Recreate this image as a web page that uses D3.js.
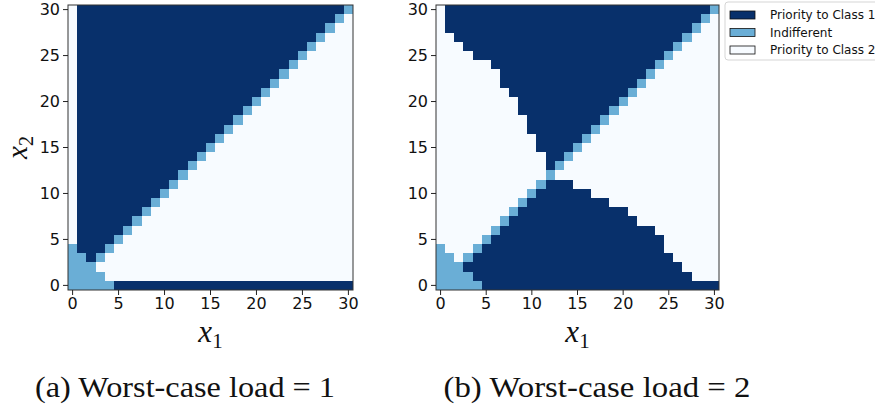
<!DOCTYPE html>
<html>
<head>
<meta charset="utf-8">
<script src="https://cdn.jsdelivr.net/npm/d3@7"></script>
<style>
  body { margin: 0; background: #fff; }
  svg { display: block; }
</style>
</head>
<body>
<div id="chart"></div>
<script>
// policy per state: 1 = priority to class 1, 0 = indifferent, 2 = priority to class 2
// each string is one row, top row is x2 = 30, columns x1 = 0..30 (grouped by 5)
const gridLoad1 = [
  "21111 11111 11111 11111 11111 11111 0",
  "21111 11111 11111 11111 11111 11110 2",
  "21111 11111 11111 11111 11111 11102 2",
  "21111 11111 11111 11111 11111 11022 2",
  "21111 11111 11111 11111 11111 10222 2",
  "21111 11111 11111 11111 11111 02222 2",
  "21111 11111 11111 11111 11110 22222 2",
  "21111 11111 11111 11111 11102 22222 2",
  "21111 11111 11111 11111 11022 22222 2",
  "21111 11111 11111 11111 10222 22222 2",
  "21111 11111 11111 11111 02222 22222 2",
  "21111 11111 11111 11110 22222 22222 2",
  "21111 11111 11111 11102 22222 22222 2",
  "21111 11111 11111 11022 22222 22222 2",
  "21111 11111 11111 10222 22222 22222 2",
  "21111 11111 11111 02222 22222 22222 2",
  "21111 11111 11110 22222 22222 22222 2",
  "21111 11111 11102 22222 22222 22222 2",
  "21111 11111 11022 22222 22222 22222 2",
  "21111 11111 10222 22222 22222 22222 2",
  "21111 11111 02222 22222 22222 22222 2",
  "21111 11110 22222 22222 22222 22222 2",
  "21111 11102 22222 22222 22222 22222 2",
  "21111 11022 22222 22222 22222 22222 2",
  "21111 10222 22222 22222 22222 22222 2",
  "21111 02222 22222 22222 22222 22222 2",
  "01110 22222 22222 22222 22222 22222 2",
  "00102 22222 22222 22222 22222 22222 2",
  "00022 22222 22222 22222 22222 22222 2",
  "00002 22222 22222 22222 22222 22222 2",
  "00000 11111 11111 11111 11111 11111 1"
];

const gridLoad2 = [
  "21111 11111 11111 11111 11111 11111 0",
  "21111 11111 11111 11111 11111 11110 2",
  "21111 11111 11111 11111 11111 11102 2",
  "22111 11111 11111 11111 11111 11022 2",
  "22211 11111 11111 11111 11111 10222 2",
  "22221 11111 11111 11111 11111 02222 2",
  "22222 21111 11111 11111 11110 22222 2",
  "22222 22111 11111 11111 11102 22222 2",
  "22222 22111 11111 11111 11022 22222 2",
  "22222 22211 11111 11111 10222 22222 2",
  "22222 22221 11111 11111 02222 22222 2",
  "22222 22221 11111 11110 22222 22222 2",
  "22222 22222 11111 11102 22222 22222 2",
  "22222 22222 11111 11022 22222 22222 2",
  "22222 22222 21111 10222 22222 22222 2",
  "22222 22222 21111 02222 22222 22222 2",
  "22222 22222 22110 22222 22222 22222 2",
  "22222 22222 22102 22222 22222 22222 2",
  "22222 22222 22022 22222 22222 22222 2",
  "22222 22222 20111 22222 22222 22222 2",
  "22222 22222 01111 11222 22222 22222 2",
  "22222 22220 11111 11112 22222 22222 2",
  "22222 22201 11111 11111 12222 22222 2",
  "22222 22011 11111 11111 11222 22222 2",
  "22222 20111 11111 11111 11112 22222 2",
  "22222 01111 11111 11111 11111 22222 2",
  "02220 11111 11111 11111 11111 22222 2",
  "00201 11111 11111 11111 11111 12222 2",
  "00011 11111 11111 11111 11111 11222 2",
  "00001 11111 11111 11111 11111 11122 2",
  "00000 11111 11111 11111 11111 11111 1"
];

const tickValues = [0, 5, 10, 15, 20, 25, 30];
const policyCodes = ["1", "0", "2"];
const legendLabels = ["Priority to Class 1", "Indifferent", "Priority to Class 2"];
const captions = ["(a) Worst-case load = 1", "(b) Worst-case load = 2"];

const color = d3.scaleOrdinal()
  .domain(policyCodes)
  .range(["#08306b", "#6aaed6", "#f7fbff"]);

const width = 875, height = 410;

const svg = d3.select("#chart").append("svg")
  .attr("width", width)
  .attr("height", height);

function toCells(rows) {
  const cells = [];
  rows.forEach((row, i) => {
    const chars = row.replace(/ /g, "").split("");
    chars.forEach((c, j) => {
      cells.push({ x1: j, x2: rows.length - 1 - i, v: c });
    });
  });
  return cells;
}

const panels = [
  { grid: gridLoad1, left: 68, top: 5, w: 285, h: 285, caption: captions[0], capX: 185, capW: 300 },
  { grid: gridLoad2, left: 436, top: 5, w: 283, h: 285, caption: captions[1], capX: 597, capW: 307 }
];

const cellIndex = d3.range(31);

panels.forEach((p, k) => {
  const g = svg.append("g").attr("transform", `translate(${p.left},${p.top})`);

  const x = d3.scaleBand().domain(cellIndex).range([0, p.w]);
  const y = d3.scaleBand().domain(cellIndex).range([p.h, 0]);

  g.selectAll("rect.cell")
    .data(toCells(p.grid))
    .join("rect")
    .attr("class", "cell")
    .attr("x", d => x(d.x1))
    .attr("y", d => y(d.x2))
    .attr("width", x.bandwidth())
    .attr("height", y.bandwidth())
    .attr("fill", d => color(d.v))
    .attr("shape-rendering", "crispEdges");

  g.append("rect")
    .attr("width", p.w)
    .attr("height", p.h)
    .attr("fill", "none")
    .attr("stroke", "#333")
    .attr("stroke-width", 1);

  const xaxis = d3.axisBottom(x).tickValues(tickValues).tickSize(5).tickPadding(3).tickSizeOuter(0);
  const yaxis = d3.axisLeft(y).tickValues(tickValues).tickSize(5).tickPadding(3).tickSizeOuter(0);

  const gx = g.append("g").attr("transform", `translate(0,${p.h})`).call(xaxis);
  const gy = g.append("g").call(yaxis);
  [gx, gy].forEach(a => {
    a.select(".domain").remove();
    a.selectAll("line").attr("stroke", "#222");
    a.selectAll("text")
      .attr("fill", "#111")
      .style("font-family", "DejaVu Sans")
      .style("font-size", "16px");
  });

  // x1 label
  const xl = g.append("text")
    .attr("x", p.w / 2)
    .attr("y", p.h + 52)
    .attr("text-anchor", "middle")
    .style("font-family", "Liberation Serif")
    .style("font-size", "31px")
    .attr("fill", "#111");
  xl.append("tspan").style("font-style", "italic").text("x");
  xl.append("tspan").attr("dy", 6).style("font-size", "21px").text("1");

  // x2 label, only on the first panel
  if (k === 0) {
    const yl = g.append("text")
      .attr("transform", `translate(${-p.left + 27},${p.h / 2}) rotate(-90)`)
      .attr("text-anchor", "middle")
      .style("font-family", "Liberation Serif")
      .style("font-size", "29px")
      .attr("fill", "#111");
    yl.append("tspan").style("font-style", "italic").text("x");
    yl.append("tspan").attr("dy", 6).style("font-size", "20px").text("2");
  }

  svg.append("text")
    .attr("x", p.capX)
    .attr("y", 397)
    .attr("text-anchor", "middle")
    .attr("textLength", p.capW)
    .attr("lengthAdjust", "spacingAndGlyphs")
    .style("font-family", "Liberation Serif")
    .style("font-size", "29px")
    .attr("fill", "#111")
    .text(p.caption);
});

// legend
const legend = svg.append("g").attr("transform", "translate(725,2)");
legend.append("rect")
  .attr("width", 170)
  .attr("height", 58)
  .attr("rx", 3)
  .attr("fill", "#fff")
  .attr("fill-opacity", 0.8)
  .attr("stroke", "#d5d5d5");

const item = legend.selectAll("g.item")
  .data(policyCodes)
  .join("g")
  .attr("class", "item")
  .attr("transform", (d, i) => `translate(5,${13 + i * 17.5})`);

item.append("rect")
  .attr("y", -4)
  .attr("width", 25)
  .attr("height", 8)
  .attr("fill", d => color(d))
  .attr("stroke", "#111")
  .attr("stroke-width", 0.8);

item.append("text")
  .attr("x", 40)
  .attr("dy", "0.35em")
  .style("font-family", "DejaVu Sans")
  .style("font-size", "12px")
  .attr("fill", "#111")
  .text((d, i) => legendLabels[i]);
</script>
</body>
</html>
